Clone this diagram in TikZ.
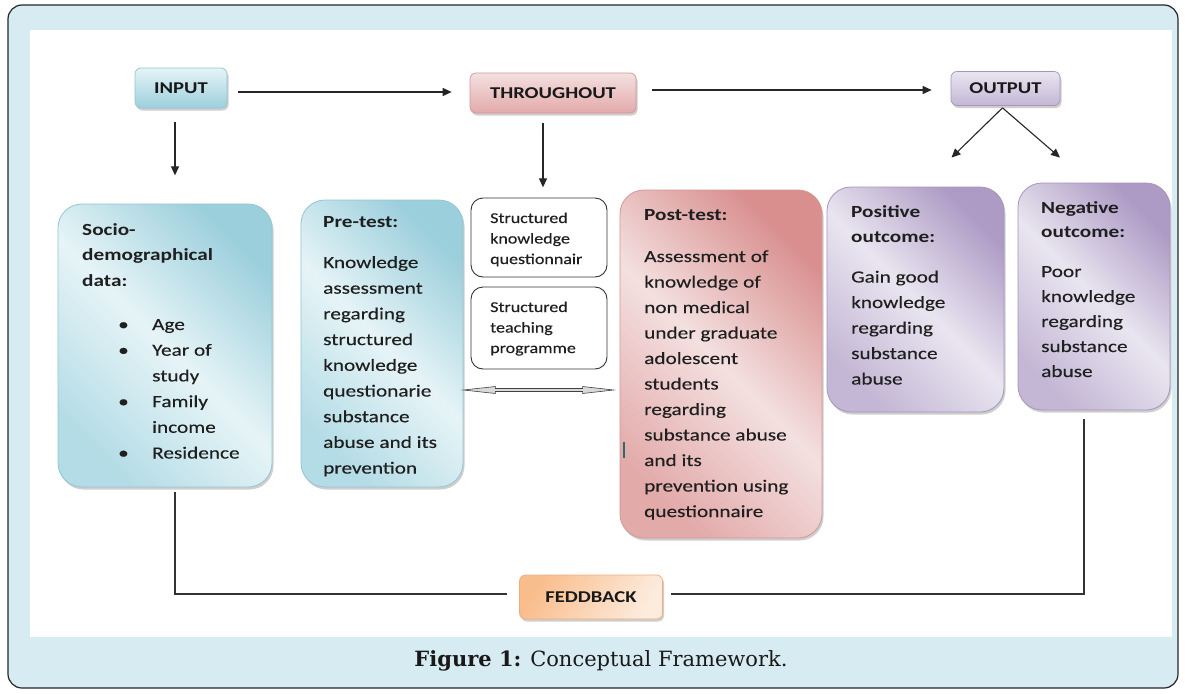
\documentclass[tikz,border=0pt]{standalone}
\usepackage{fontspec}
\setmainfont{Carlito}
\newfontfamily\cf[FakeStretch=1.25, UprightFeatures={FakeBold=0.25}]{Carlito}
\newfontfamily\cfs[FakeStretch=1.2, UprightFeatures={FakeBold=0.25}]{Carlito}
\newfontfamily\capf{DejaVu Serif}
\usetikzlibrary{arrows.meta,shadows,calc}
\definecolor{frameC}{HTML}{D7ECF2}
\definecolor{bD}{HTML}{9CCFDC}
\definecolor{bM}{HTML}{B4DCE6}
\definecolor{bL}{HTML}{E6F4F7}
\definecolor{bB}{HTML}{93C5D2}
\definecolor{pD}{HTML}{D88F8E}
\definecolor{pM}{HTML}{E3AAAA}
\definecolor{pL}{HTML}{F4E0E0}
\definecolor{pB}{HTML}{D39797}
\definecolor{uD}{HTML}{AE9BC5}
\definecolor{uM}{HTML}{C4B7D5}
\definecolor{uL}{HTML}{E9E5F0}
\definecolor{uB}{HTML}{A695BD}
\definecolor{oD}{HTML}{F9BD8C}
\definecolor{oL}{HTML}{FDEBDD}
\definecolor{oB}{HTML}{EDAE7E}
\definecolor{markC}{HTML}{2E6B66}
\pgfdeclarehorizontalshading{blueSh}{100bp}{color(0bp)=(bM); color(25bp)=(bM); color(50bp)=(bL); color(75bp)=(bD); color(100bp)=(bD)}
\pgfdeclarehorizontalshading{pinkSh}{100bp}{color(0bp)=(pM); color(25bp)=(pM); color(50bp)=(pL); color(75bp)=(pD); color(100bp)=(pD)}
\pgfdeclarehorizontalshading{purpSh}{100bp}{color(0bp)=(uM); color(25bp)=(uM); color(50bp)=(uL); color(75bp)=(uD); color(100bp)=(uD)}
\tikzset{
  shad/.style={drop shadow={shadow xshift=1.5pt,shadow yshift=-2.5pt,opacity=.35,fill=black!55}},
  bigbox/.style={shape=rectangle, inner sep=0pt, rounded corners=24pt, line width=0.8pt, shading angle=45, shad},
  bluebox/.style={bigbox, draw=bB, shading=blueSh},
  pinkbox/.style={bigbox, draw=pB, shading=pinkSh},
  purpbox/.style={bigbox, draw=uB, shading=purpSh},
  whitebox/.style={shape=rectangle, inner sep=0pt, rounded corners=12pt, draw=black!80, line width=0.9pt, fill=white, minimum width=136pt},
  lab/.style={shape=rectangle, rounded corners=6pt, line width=0.7pt, inner sep=0pt, shad,
     font=\cf\bfseries\fontsize{16.5}{20}\selectfont, text=black!90},
  labblue/.style={lab, draw=bB, top color=bL, bottom color=bD},
  labpink/.style={lab, draw=pB, top color=pL, bottom color=pM},
  labpurp/.style={lab, draw=uB, top color=uL, bottom color=uM},
  laborange/.style={lab, draw=oB, left color=oD, right color=oL, shading angle=60},
  txt/.style={anchor=base west, inner sep=0pt, font=\cf\fontsize{17}{25.5}\selectfont, text=black!88},
  stxt/.style={anchor=base west, inner sep=0pt, font=\cfs\fontsize{15}{20.5}\selectfont, text=black!88},
  arr/.style={-{Triangle[length=9pt,width=8pt]}, line width=1.1pt, black!85},
  fbline/.style={line width=1.1pt, black!80},
}
\begin{document}
\begin{tikzpicture}[x=1pt,y=-1pt]
\useasboundingbox (0,0) rectangle (1185,693);
% frame
\path[draw=black!85, line width=1.2pt, fill=frameC, rounded corners=14pt] (8,5) rectangle (1178,688);
\path[fill=white] (30,30) rectangle (1172,637);

% top labels
\node[labblue, minimum width=92pt, minimum height=40pt] (in) at (181,88) {INPUT};
\node[labpink, minimum width=166pt, minimum height=40pt] (thr) at (553,93) {THROUGHOUT};
\node[labpurp, minimum width=109pt, minimum height=34pt] (out) at (1005.5,88.5) {OUTPUT};

% big boxes
\node[bluebox, minimum width=214pt, minimum height=283pt] (socio) at (165,345.5) {};
\node[bluebox, minimum width=162pt, minimum height=287pt] (pre) at (382,343.5) {};
\node[whitebox, minimum height=79pt] (sq) at (539,237.5) {};
\node[whitebox, minimum height=82pt] (st) at (539,328) {};
\node[pinkbox, minimum width=202pt, minimum height=348pt] (post) at (721,364) {};
\node[purpbox, minimum width=177pt, minimum height=225pt] (pos) at (915.5,299.5) {};
\node[purpbox, minimum width=152pt, minimum height=227pt] (neg) at (1094,296.5) {};

% texts
\node[txt] (sociot) at (82,235) {\begin{tabular}[t]{@{}l@{}}\bfseries Socio-\\ \bfseries demographical\\ \bfseries data:\end{tabular}};
\node[txt, font=\cf\fontsize{17}{25.7}\selectfont] (sociob) at (118,330) {\begin{tabular}[t]{@{}l@{}}\makebox[34pt][l]{\textbullet}Age\\ \makebox[34pt][l]{\textbullet}Year of\\ \makebox[34pt][l]{}study\\ \makebox[34pt][l]{\textbullet}Family\\ \makebox[34pt][l]{}income\\ \makebox[34pt][l]{\textbullet}Residence\end{tabular}};
\node[txt, font=\cf\fontsize{17}{25.7}\selectfont] (pret) at (323,227) {\begin{tabular}[t]{@{}l@{}}\bfseries Pre-test:\\[15.3pt] Knowledge\\ assessment\\ regarding\\ structured\\ knowledge\\ questionarie\\ substance\\ abuse and its\\ prevention\end{tabular}};
\node[stxt] (sqt) at (490,223) {\begin{tabular}[t]{@{}l@{}}Structured\\ knowledge\\ questionnair\end{tabular}};
\node[stxt] (stt) at (490,312) {\begin{tabular}[t]{@{}l@{}}Structured\\ teaching\\ programme\end{tabular}};
\node[txt] (postt) at (644,220) {\begin{tabular}[t]{@{}l@{}}\bfseries Post-test:\\[16.5pt] Assessment of\\ knowledge of\\ non medical\\ under graduate\\ adolescent\\ students\\ regarding\\ substance abuse\\ and its\\ prevention using\\ questionnaire\end{tabular}};
\node[txt] (posit) at (851,217) {\begin{tabular}[t]{@{}l@{}}\bfseries Positive\\ \bfseries outcome:\\[14.5pt] Gain good\\ knowledge\\ regarding\\ substance\\ abuse\end{tabular}};
\node[txt, font=\cf\fontsize{17}{25}\selectfont] (negt) at (1041,213) {\begin{tabular}[t]{@{}l@{}}\bfseries Negative\\[-1pt] \bfseries outcome:\\[15pt] Poor\\ knowledge\\ regarding\\ substance\\ abuse\end{tabular}};

% arrows
\draw[arr] ($(in.east)+(11,4)$) -- ($(thr.west)+(-18,-1)$);
\draw[arr] ($(thr.east)+(16,-3)$) -- ($(out.west)+(-19,1.5)$);
\draw[arr] ($(in.south)+(-6,14)$) -- ($(in.south)+(-6,67)$);
\draw[arr] ($(thr.south)+(-10,10)$) -- ($(thr.south)+(-10,74)$);
\coordinate (apex) at ($(out.south)+(-3,2)$);
\draw[arr] (apex) -- ($(pos.north)+(36,-29)$);
\draw[arr] (apex) -- ($(neg.north)+(-34,-25)$);

% double hollow arrow between pre-test and post-test
\coordinate (dL) at ($(pre.east)+(0,46.5)$);
\coordinate (dR) at ($(post.west)+(-6,26)$);
\draw[black!75, line width=0.6pt, fill=gray!30]
  (dL) -- ++(32,-3.5) -- ++(0,2) -- ($(dR)+(-31,-1.5)$) -- ++(0,-2) -- (dR)
  -- ++(-31,3.5) -- ++(0,-2) -- ($(dL)+(32,1.5)$) -- ++(0,2) -- cycle;

% stray mark
\draw[markC, line width=1.8pt] ($(post.west)+(4,78)$) -- ++(0,16);

% feedback
\node[laborange, minimum width=143pt, minimum height=44pt] (fb) at (591,597) {FEDDBACK};
\coordinate (fbL) at ($(socio.south)+(10,5)$);
\coordinate (fbR) at ($(neg.south)+(-10,9)$);
\draw[fbline] (fbL) |- ($(fb.west)+(-12,-3)$);
\draw[fbline] (fbR) |- ($(fb.east)+(8,-3)$);

% caption
\node[anchor=base, inner sep=0pt, font=\capf\fontsize{21}{24}\selectfont, text=black!90] (cap) at (601,666) {\textbf{Figure 1:} Conceptual Framework.};
\end{tikzpicture}
\end{document}
